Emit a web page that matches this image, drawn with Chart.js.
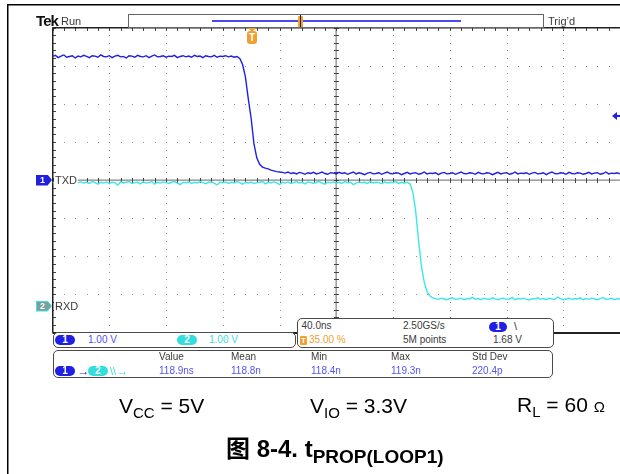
<!DOCTYPE html>
<html>
<head>
<meta charset="utf-8">
<script src="https://cdn.jsdelivr.net/npm/chart.js@4.4.1/dist/chart.umd.min.js"></script>
<style>
html,body{margin:0;padding:0;background:#fff;}
#wrap{position:relative;width:620px;height:474px;overflow:hidden;background:#fff;}
#wrap canvas{position:absolute;left:0;top:0;}
.t{position:absolute;white-space:nowrap;font-family:"Liberation Sans",Arial,sans-serif;font-size:10px;line-height:10px;color:#3a3a3a;transform:translateY(-50%);}
.box{position:absolute;box-sizing:border-box;border:1px solid #4a4a4a;background:#fff;}
.pill{position:absolute;box-sizing:border-box;border-radius:6px;color:#fff;font:bold 10px/10px "Liberation Sans",Arial,sans-serif;text-align:center;}
.cap{position:absolute;white-space:nowrap;font-family:"Liberation Sans",Arial,"Noto Sans CJK SC",sans-serif;font-size:21px;line-height:21px;color:#000;transform:translateY(-50%);}
.cap sub{font-size:15px;line-height:0;vertical-align:-5px;}
.ttl{font-weight:bold;font-size:24px;line-height:24px;}
.ttl sub{font-size:19px;vertical-align:-6px;}
.mk{position:absolute;clip-path:polygon(0 0,72% 0,100% 50%,72% 100%,0 100%);}
</style>
</head>
<body>
<div id="wrap">
<canvas id="c" width="620" height="474"></canvas>

<!-- header -->
<div class="t" style="left:36px;top:20px;font:bold 15px/15px 'Liberation Sans',Arial,sans-serif;letter-spacing:-0.9px;color:#111">Tek</div>
<div class="t" style="left:61px;top:21px;font-size:11px">Run</div>
<div class="box" style="left:128px;top:14px;width:416px;height:14px;border-color:#666;background:transparent"></div>
<div style="position:absolute;left:212px;top:20px;width:249px;height:1.5px;background:#4a4af2"></div>
<div style="position:absolute;left:297.5px;top:15.5px;width:5px;height:11px;background:#f0a030;border-radius:1px"></div>
<div style="position:absolute;left:299.5px;top:15px;width:1.5px;height:12px;background:#222"></div>
<div class="t" style="left:548px;top:21px;font-size:11px">Trig’d</div>

<!-- trigger position marker -->
<div style="position:absolute;left:248px;top:28px;width:0;height:0;border-left:4px solid transparent;border-right:4px solid transparent;border-top:4px solid #f0a030"></div>
<div class="pill" style="left:247px;top:31px;width:10px;height:13px;border-radius:3px;background:#f0a030;font:bold 10px/13px 'Liberation Sans',Arial,sans-serif">T</div>

<!-- channel ground markers -->
<div class="mk" style="left:36px;top:174.5px;width:16px;height:11px;background:#1f1fe6"></div>
<div class="t" style="left:40px;top:180px;color:#fff;font-weight:bold;font-size:9px">1</div>
<div class="t" style="left:54px;top:180px;background:#fff;padding:0 1px 0 1px;font-size:11px;line-height:11px">TXD</div>
<div class="mk" style="left:36px;top:300.5px;width:16px;height:11px;background:#3ee0e0"></div>
<div class="mk" style="left:37px;top:301.5px;width:14px;height:9px;background:#7b9e9e"></div>
<div class="t" style="left:40px;top:306px;color:#fff;font-weight:bold;font-size:9px">2</div>
<div class="t" style="left:54px;top:306px;background:#fff;padding:0 1px;font-size:11px;line-height:11px">RXD</div>

<!-- channel scale box -->
<div class="box" style="left:52.5px;top:332px;width:243px;height:16px;border-radius:5px"></div>
<div class="pill" style="left:55px;top:335px;width:20px;height:10px;background:#1f1fe6">1</div>
<div class="t" style="left:88px;top:340px;color:#4f4ff0">1.00 V</div>
<div class="pill" style="left:177px;top:335px;width:20px;height:10px;background:#33dede">2</div>
<div class="t" style="left:209px;top:340px;color:#33dede">1.00 V</div>

<!-- timebase box -->
<div class="box" style="left:297px;top:318px;width:257px;height:30px;border-radius:5px"></div>
<div class="t" style="left:301.5px;top:326px">40.0ns</div>
<div class="t" style="left:403px;top:326px">2.50GS/s</div>
<div class="pill" style="left:489px;top:321.5px;width:18px;height:10px;background:#1f1fe6">1</div>
<div class="t" style="left:514px;top:326px;font-size:11px">\</div>
<div class="pill" style="left:300px;top:336px;width:7px;height:9px;border-radius:1px;background:#f0a030;font:bold 8px/9px 'Liberation Sans',Arial,sans-serif">T</div>
<div class="t" style="left:309px;top:340px;color:#f0a030">35.00 %</div>
<div class="t" style="left:403px;top:340px">5M points</div>
<div class="t" style="left:493px;top:340px">1.68 V</div>

<!-- measurement box -->
<div class="box" style="left:52.5px;top:350px;width:500px;height:28px;border-radius:5px"></div>
<div class="t" style="left:159px;top:357px">Value</div>
<div class="t" style="left:231px;top:357px">Mean</div>
<div class="t" style="left:311px;top:357px">Min</div>
<div class="t" style="left:391px;top:357px">Max</div>
<div class="t" style="left:472px;top:357px">Std Dev</div>
<div class="pill" style="left:55px;top:366px;width:20px;height:10px;background:#1f1fe6">1</div>
<div class="t" style="left:77.5px;top:371px;color:#1f1fe6;font-weight:bold;font-size:12px;line-height:12px">→</div>
<div class="pill" style="left:88px;top:366px;width:20px;height:10px;background:#33dede">2</div>
<div class="t" style="left:110px;top:371px;color:#33dede;font-size:11px;line-height:11px">\\<b style="font-size:12px">→</b></div>
<div class="t" style="left:159px;top:371px;color:#5555ee">118.9ns</div>
<div class="t" style="left:231px;top:371px;color:#5555ee">118.8n</div>
<div class="t" style="left:311px;top:371px;color:#5555ee">118.4n</div>
<div class="t" style="left:391px;top:371px;color:#5555ee">119.3n</div>
<div class="t" style="left:472px;top:371px;color:#5555ee">220.4p</div>

<!-- caption -->
<div class="cap" style="left:119px;top:405px">V<sub>CC</sub> = 5V</div>
<div class="cap" style="left:310px;top:405px">V<sub>IO</sub> = 3.3V</div>
<div class="cap" style="left:517px;top:405px">R<sub>L</sub> = 60 <span style="font-size:15px">Ω</span></div>
<div class="cap ttl" style="left:226px;top:449px">图 8-4. t<sub>PROP(LOOP1)</sub></div>
</div>

<script>
// ---- acquisition settings ----
const SAMPLE_START_NS = -140;   // left edge of record (trigger at 0 ns, 35 %)
const SAMPLE_STEP_NS = 2;
const TIME_DIV_NS = [-140, -100, -60, -20, 20, 60, 100, 140, 180, 220, 260];
const VOLT_DIV = [-4, -3, -2, -1, 0, 1, 2, 3, 4];
const CH2_OFFSET_DIV = -3.3;    // RXD ground position (1.00 V/div)
const TRIG_LEVEL_V = 1.68;

// ---- CH1 (TXD) samples, volts ----
const ch1Volts = [
3.24,3.27,3.21,3.25,3.28,3.22,3.24,3.26,3.20,3.25,
3.23,3.27,3.24,3.21,3.26,3.25,3.22,3.28,3.24,3.23,
3.26,3.21,3.25,3.27,3.23,3.24,3.20,3.26,3.25,3.22,
3.27,3.24,3.23,3.26,3.21,3.25,3.28,3.23,3.24,3.26,
3.22,3.25,3.24,3.27,3.21,3.24,3.26,3.23,3.25,3.22,
3.27,3.24,3.25,3.21,3.26,3.24,3.23,3.27,3.22,3.25,
3.24,3.26,3.23,3.25,3.22,3.24,
3.19,3.03,2.70,2.13,1.62,0.95,0.58,0.41,0.34,0.31,0.29,0.26,0.24,0.22,0.21,
0.20,0.18,0.21,0.17,0.19,0.16,0.20,0.18,0.15,0.19,
0.17,0.20,0.16,0.18,0.21,0.17,0.15,0.19,0.18,0.16,
0.20,0.17,0.19,0.15,0.18,0.21,0.16,0.19,0.17,0.14,
0.18,0.20,0.16,0.17,0.19,0.15,0.18,0.21,0.17,0.16,
0.19,0.18,0.14,0.17,0.20,0.16,0.18,0.19,0.15,0.17,
0.21,0.16,0.18,0.17,0.19,0.14,0.18,0.20,0.16,0.17,
0.19,0.15,0.18,0.21,0.17,0.16,0.19,0.18,0.15,0.20,
0.17,0.16,0.19,0.18,0.14,0.17,0.20,0.16,0.18,0.19,
0.15,0.17,0.21,0.16,0.18,0.17,0.19,0.15,0.18,0.20,
0.16,0.17,0.19,0.14,0.18,0.21,0.17,0.16,0.19,0.18,
0.15,0.20,0.17,0.16,0.19,0.18,0.15,0.17,0.20,0.16,
0.18,0.19,0.15,0.17,0.21,0.16,0.18,0.17,0.19,0.16
];

// ---- CH2 (RXD) samples, volts ----
const ch2Volts = [
3.24,3.22,3.25,3.20,3.23,3.26,3.21,3.24,3.18,3.23,
3.25,3.22,3.24,3.21,3.26,3.23,3.19,3.24,3.22,3.25,
3.21,3.24,3.23,3.17,3.25,3.22,3.24,3.26,3.21,3.23,
3.24,3.20,3.25,3.22,3.23,3.26,3.19,3.24,3.22,3.25,
3.23,3.21,3.24,3.26,3.22,3.18,3.24,3.23,3.25,3.21,
3.24,3.22,3.26,3.23,3.20,3.24,3.25,3.22,3.17,3.24,
3.23,3.25,3.21,3.24,3.22,3.26,3.23,3.19,3.24,3.22,
3.25,3.21,3.23,3.24,3.26,3.20,3.24,3.22,3.25,3.23,
3.18,3.24,3.22,3.25,3.21,3.23,3.26,3.22,3.24,3.20,
3.25,3.23,3.21,3.24,3.26,3.22,3.19,3.24,3.23,3.25,
3.22,3.24,3.21,3.26,3.23,3.24,3.18,3.22,3.25,3.23,
3.24,3.21,3.26,3.22,3.24,3.23,3.20,3.25,3.22,3.24,
3.23,3.26,3.21,3.24,3.22,3.24,
3.20,2.98,2.48,1.72,1.05,0.62,0.37,0.26,0.21,
0.19,0.17,0.20,0.18,0.16,0.19,0.21,0.17,0.18,0.20,
0.16,0.19,0.18,0.22,0.17,0.19,0.16,0.20,0.18,0.17,
0.21,0.18,0.16,0.19,0.20,0.17,0.18,0.22,0.16,0.19,
0.18,0.20,0.17,0.15,0.19,0.18,0.21,0.17,0.19,0.16,
0.20,0.18,0.17,0.23,0.19,0.16,0.18,0.20,0.17,0.19,
0.18,0.21,0.16,0.19,0.17,0.20,0.18,0.16,0.19,0.22,
0.17,0.18,0.20,0.16,0.19,0.18
];

const toPoints = (arr, off) => arr.map((v, i) => ({x: SAMPLE_START_NS + i * SAMPLE_STEP_NS, y: v + off}));

const scopePlugin = {
  id: 'scope',
  beforeDraw(chart) {
    const {ctx} = chart;
    ctx.save();
    ctx.fillStyle = '#000';
    ctx.fillRect(7, 4, 1.5, 470);
    ctx.fillRect(7, 4, 613, 1.5);
    ctx.restore();
  },
  beforeDatasetsDraw(chart) {
    const {ctx, chartArea: a, scales: {x, y}} = chart;
    const xs = TIME_DIV_NS.map(v => x.getPixelForValue(v));
    const ys = VOLT_DIV.map(v => y.getPixelForValue(v));
    const mx = (xs[1] - xs[0]) / 5, my = Math.abs(ys[1] - ys[0]) / 5;
    const cx = x.getPixelForValue(TIME_DIV_NS[5]), cy = y.getPixelForValue(0);
    ctx.save();
    ctx.fillStyle = '#8f8f8f';
    for (let i = 1; i < xs.length - 1; i++) {
      if (i === 5) continue;
      for (let k = 1; k < 40; k++) ctx.fillRect(Math.round(xs[i]), Math.round(a.top + k * my), 1, 1);
    }
    for (let j = 1; j < ys.length - 1; j++) {
      if (j === 4) continue;
      for (let k = 1; k < 50; k++) ctx.fillRect(Math.round(a.left + k * mx), Math.round(ys[j]), 1, 1);
    }
    ctx.fillStyle = '#8a8a8a';
    ctx.fillRect(a.left, Math.round(cy) - 0.5, a.right - a.left, 1.3);
    ctx.fillRect(Math.round(cx) - 0.5, a.top, 1.3, a.bottom - a.top);
    ctx.fillStyle = '#444';
    for (let k = 0; k <= 50; k++) {
      const xx = Math.round(a.left + k * mx);
      ctx.fillRect(xx, Math.round(cy) - 2, 1, 5);
      ctx.fillRect(xx, Math.round(a.top), 1, 3);
    }
    for (let k = 0; k <= 40; k++) {
      const yy = Math.round(a.top + k * my);
      ctx.fillRect(Math.round(cx) - 2, yy, 5, 1);
      ctx.fillRect(Math.round(a.left), yy, 3, 1);
    }
    ctx.fillStyle = '#222';
    ctx.fillRect(Math.round(a.left) - 1, a.top, 1.5, a.bottom - a.top);
    ctx.fillRect(a.left, Math.round(a.top) - 1, a.right - a.left, 1.5);
    ctx.fillRect(a.left, Math.round(a.bottom) - 1, a.right - a.left, 2);
    ctx.restore();
  },
  afterDatasetsDraw(chart) {
    const {ctx, chartArea: a, scales: {y}} = chart;
    const ty = y.getPixelForValue(TRIG_LEVEL_V);
    ctx.save();
    ctx.fillStyle = '#1f1fe6';
    ctx.beginPath();
    ctx.moveTo(a.right - 8, ty);
    ctx.lineTo(a.right - 3, ty - 4);
    ctx.lineTo(a.right - 3, ty + 4);
    ctx.closePath();
    ctx.fill();
    ctx.fillRect(a.right - 4, ty - 1, 4, 2);
    ctx.restore();
  }
};

new Chart(document.getElementById('c'), {
  type: 'line',
  data: {
    datasets: [
      {label: 'RXD', data: toPoints(ch2Volts, CH2_OFFSET_DIV), borderColor: '#3ee6e6', borderWidth: 1.4, pointRadius: 0, tension: 0},
      {label: 'TXD', data: toPoints(ch1Volts, 0), borderColor: '#1f1fe6', borderWidth: 1.4, pointRadius: 0, tension: 0}
    ]
  },
  options: {
    responsive: false,
    animation: false,
    devicePixelRatio: 1,
    events: [],
    layout: {padding: {left: 52.5, top: 27.5, right: 0, bottom: 141.5}},
    plugins: {legend: {display: false}, tooltip: {enabled: false}, title: {display: false}},
    scales: {
      x: {type: 'linear', min: TIME_DIV_NS[0], max: TIME_DIV_NS[TIME_DIV_NS.length - 1], display: false},
      y: {type: 'linear', min: VOLT_DIV[0], max: VOLT_DIV[VOLT_DIV.length - 1], display: false}
    }
  },
  plugins: [scopePlugin]
});
</script>
</body>
</html>
